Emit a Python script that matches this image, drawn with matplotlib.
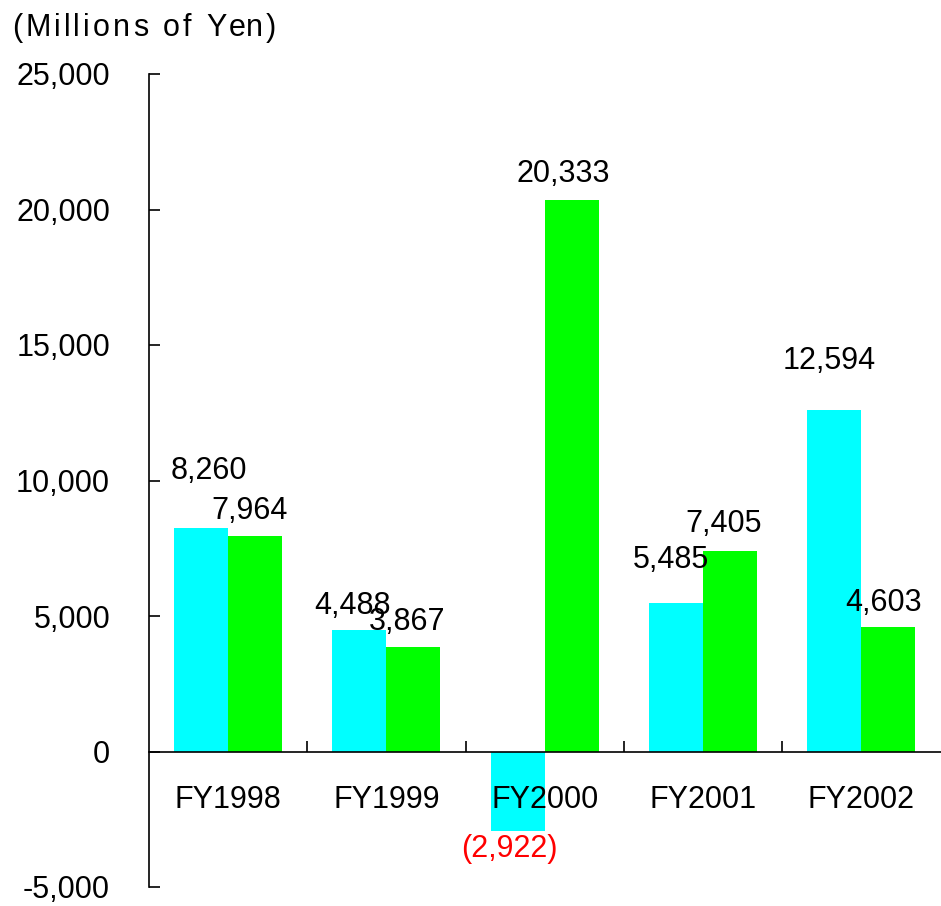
import matplotlib
matplotlib.use("Agg")
import matplotlib.pyplot as plt
import numpy as np

categories = ["FY1998", "FY1999", "FY2000", "FY2001", "FY2002"]
series_a = [8260, 4488, -2922, 5485, 12594]   # cyan
series_b = [7964, 3867, 20333, 7405, 4603]    # green
labels_a = ["8,260", "4,488", "(2,922)", "5,485", "12,594"]
labels_b = ["7,964", "3,867", "20,333", "7,405", "4,603"]
yticks = [-5000, 0, 5000, 10000, 15000, 20000, 25000]
ytick_labels = ["-5,000", "0", "5,000", "10,000", "15,000", "20,000", "25,000"]
title = "(Millions of Yen)"

# label offsets in pixels (dx, dy) relative to bar top center
off_a = [(8, 57), (-7, 24), (-8, -18), (-5, 43), (-5, 49)]
off_b = [(-6, 25), (-6, 25), (-8, 26), (-6, 27), (-5, 24)]

plt.rcParams['font.family'] = ['Liberation Sans', 'DejaVu Sans']

fig = plt.figure(figsize=(9.41, 9.06), dpi=100)
ax = fig.add_axes([149/941, 19/906, 791.5/941, 813/906])
ax.set_axisbelow(False)

x = np.arange(len(categories))
w = 0.341
ax.bar(x - w/2, series_a, width=w, color="#00FFFF", linewidth=0, zorder=1)
ax.bar(x + w/2, series_b, width=w, color="#00FF00", linewidth=0, zorder=1)

ax.set_xlim(-0.5, len(categories) - 0.5)
ax.set_ylim(-5000, 25000)

for sp in ["top", "right"]:
    ax.spines[sp].set_visible(False)
ax.spines["bottom"].set_position(("data", 0))
ax.spines["bottom"].set_zorder(3)
for sp in ["left", "bottom"]:
    ax.spines[sp].set_linewidth(1.2)

ax.set_yticks(yticks)
ax.set_yticklabels(ytick_labels)
ax.tick_params(axis="y", direction="in", length=8, width=1.2, pad=28, labelsize=22)

ax.set_xticks(np.arange(len(categories) - 1) + 0.5)
ax.set_xticklabels([])
ax.tick_params(axis="x", which="major", direction="in", length=8, width=1.2)
ax.set_xticks(x, minor=True)
ax.set_xticklabels(categories, minor=True)
ax.tick_params(axis="x", which="minor", length=0, pad=24, labelsize=22)

for i in range(len(categories)):
    col = "#FF0000" if series_a[i] < 0 else "black"
    ax.annotate(labels_a[i], xy=(x[i] - w/2, series_a[i]), xytext=off_a[i],
                textcoords="offset pixels", ha="center", va="center",
                fontsize=22, color=col, zorder=4)
    ax.annotate(labels_b[i], xy=(x[i] + w/2, series_b[i]), xytext=off_b[i],
                textcoords="offset pixels", ha="center", va="center",
                fontsize=22, color="black", zorder=4)

# letter-spaced title
renderer = fig.canvas.get_renderer()
def text_width(s):
    t = fig.text(0, 0, s + "|", fontsize=22)
    t2 = fig.text(0, 0, "|", fontsize=22)
    wdt = t.get_window_extent(renderer).width - t2.get_window_extent(renderer).width
    t.remove(); t2.remove()
    return wdt

x0 = 12
spacing = 3.1
for k, ch in enumerate(title):
    px = x0 + text_width(title[:k]) + k * spacing
    fig.text(px / 941, 1 - 28 / 906, ch, fontsize=22, ha="left", va="center")

fig.savefig("out.png", dpi=100)
